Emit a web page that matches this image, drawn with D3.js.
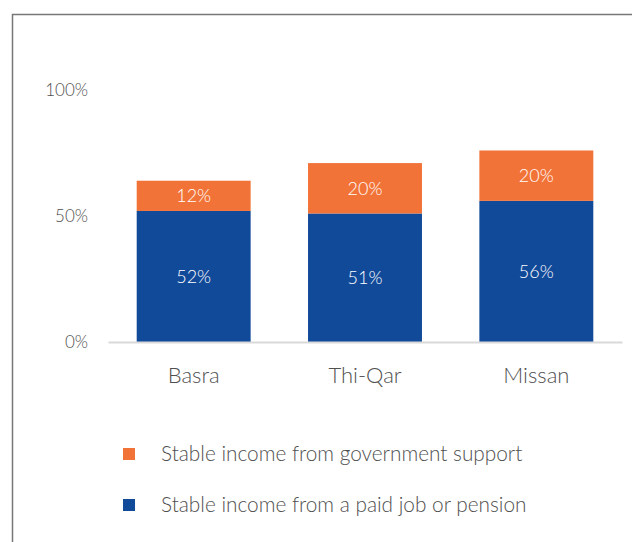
<!DOCTYPE html>
<html>
<head>
<meta charset="utf-8">
<script src="https://cdn.jsdelivr.net/npm/d3@7"></script>
<style>
  html, body { margin: 0; padding: 0; background: #ffffff; }
  svg { display: block; }
  text { font-family: Lato, "Open Sans", sans-serif; font-weight: 300; }
</style>
</head>
<body>
<script>
const categories = ["Basra", "Thi-Qar", "Missan"];
const seriesNames = ["Stable income from a paid job or pension", "Stable income from government support"];
const jobValues = [52, 51, 56];
const govValues = [12, 20, 20];
const yTicks = [0, 50, 100];
const colors = ["#124a9a", "#f27338"];

const W = 632, H = 542;
const svg = d3.select("body").append("svg").attr("width", W).attr("height", H);

// outer frame
svg.append("rect")
  .attr("x", 12.5).attr("y", 14.5).attr("width", W + 10).attr("height", H + 10)
  .attr("fill", "none").attr("stroke", "#777777").attr("stroke-width", 1.5);

const x = d3.scaleBand().domain(categories).range([108, 622]).paddingInner(0.335).paddingOuter(0.1675);
const y = d3.scaleLinear().domain([0, 100]).range([342, 90]);

const rows = categories.map((c, i) => ({ cat: c, job: jobValues[i], gov: govValues[i] }));
const stacked = d3.stack().keys(["job", "gov"])(rows);

const textGray = "#505050";

// y tick labels (no axis line)
const yAxis = d3.axisLeft(y).tickValues(yTicks).tickFormat(d => d + "%").tickSize(0).tickPadding(0);
const yg = svg.append("g").attr("transform", "translate(88,0)").call(yAxis);
yg.select(".domain").remove();
yg.selectAll("text").attr("fill", textGray).style("font-size", "17px").style("font-family", "Lato, sans-serif").style("font-weight", 300).attr("dy", "0.35em");

// bars
stacked.forEach((s, si) => {
  svg.append("g").selectAll("rect").data(s).join("rect")
    .attr("x", d => x(d.data.cat))
    .attr("y", d => y(d[1]))
    .attr("width", x.bandwidth())
    .attr("height", d => y(d[0]) - y(d[1]))
    .attr("fill", colors[si]);
  svg.append("g").selectAll("text").data(s).join("text")
    .attr("x", d => x(d.data.cat) + x.bandwidth() / 2)
    .attr("y", d => (y(d[0]) + y(d[1])) / 2)
    .attr("dy", "0.35em")
    .attr("text-anchor", "middle")
    .attr("fill", "#ffffff")
    .style("font-size", "18px")
    .text(d => (d[1] - d[0]) + "%");
});

// x axis
const xAxis = d3.axisBottom(x).tickSize(0).tickPadding(0);
const xg = svg.append("g").attr("transform", "translate(0,342)").call(xAxis);
xg.select(".domain").attr("stroke", "#d9d9d9").attr("stroke-width", 2);
xg.selectAll("text").attr("fill", textGray).style("font-size", "22px").style("font-family", "Lato, sans-serif").style("font-weight", 300)
  .attr("y", 0).attr("dy", "0").attr("transform", "translate(0,41)");

// legend
const legendItems = [
  { name: seriesNames[1], color: colors[1], yPos: 454 },
  { name: seriesNames[0], color: colors[0], yPos: 505 }
];
const lg = svg.append("g");
legendItems.forEach(it => {
  lg.append("rect").attr("x", 123).attr("y", it.yPos - 6).attr("width", 12).attr("height", 12).attr("fill", it.color);
  lg.append("text").attr("x", 161).attr("y", it.yPos).attr("dy", "0.35em")
    .attr("fill", textGray).style("font-size", "20.8px").text(it.name);
});
</script>
</body>
</html>
